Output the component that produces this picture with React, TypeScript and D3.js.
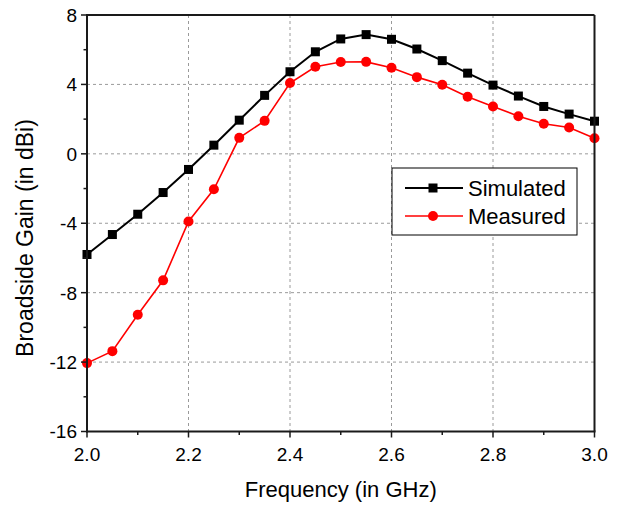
import React from 'react';
import * as d3 from 'd3';

// frequency points (GHz)
const freqs = [2.0, 2.05, 2.1, 2.15, 2.2, 2.25, 2.3, 2.35, 2.4, 2.45, 2.5, 2.55, 2.6, 2.65, 2.7, 2.75, 2.8, 2.85, 2.9, 2.95, 3.0];
const simulated = [-5.8, -4.65, -3.48, -2.23, -0.9, 0.5, 1.94, 3.37, 4.73, 5.88, 6.62, 6.87, 6.6, 6.04, 5.37, 4.65, 3.96, 3.33, 2.73, 2.29, 1.88];
const measured = [-12.06, -11.37, -9.27, -7.29, -3.9, -2.04, 0.92, 1.9, 4.08, 5.02, 5.29, 5.3, 4.96, 4.42, 3.98, 3.29, 2.73, 2.17, 1.73, 1.52, 0.9];

const xTicks = [2.0, 2.2, 2.4, 2.6, 2.8, 3.0];
const xMinor = [2.1, 2.3, 2.5, 2.7, 2.9];
const yTicks = [8, 4, 0, -4, -8, -12, -16];
const yMinor = [6, 2, -2, -6, -10, -14];

const FONT = '"Liberation Sans", Arial, sans-serif';

const App = () => {
  const left = 87, right = 594.5, top = 15, bottom = 431.5;
  const x = d3.scaleLinear().domain([2.0, 3.0]).range([left, right]);
  const y = d3.scaleLinear().domain([-16, 8]).range([bottom, top]);

  const simData = freqs.map((f, i) => [f, simulated[i]] as [number, number]);
  const meaData = freqs.map((f, i) => [f, measured[i]] as [number, number]);
  const line = d3.line<[number, number]>().x(d => x(d[0])).y(d => y(d[1]));

  const grid = '#9a9a9a';
  const axisColor = '#1a1a1a';

  return (
    <svg width={624} height={506} style={{ position: 'absolute', left: 0, top: 0, background: '#fff' }}>
      {/* grid */}
      {xTicks.slice(1, -1).map(t => (
        <line key={'gx' + t} x1={x(t)} x2={x(t)} y1={top} y2={bottom} stroke={grid} strokeWidth={1} strokeDasharray="3,3" />
      ))}
      {yTicks.slice(1, -1).map(t => (
        <line key={'gy' + t} x1={left} x2={right} y1={y(t)} y2={y(t)} stroke={grid} strokeWidth={1} strokeDasharray="3,3" />
      ))}

      {/* data */}
      <path d={line(simData) || ''} fill="none" stroke="#000" strokeWidth={2} />
      <path d={line(meaData) || ''} fill="none" stroke="#ff0000" strokeWidth={1.6} />
      {simData.map((d, i) => (
        <rect key={'s' + i} x={x(d[0]) - 4.5} y={y(d[1]) - 4.5} width={9} height={9} fill="#000" />
      ))}
      {meaData.map((d, i) => (
        <circle key={'m' + i} cx={x(d[0])} cy={y(d[1])} r={5} fill="#ff0000" />
      ))}

      {/* frame */}
      <line x1={left} x2={right} y1={top} y2={top} stroke={axisColor} strokeWidth={2} />
      <line x1={right} x2={right} y1={top} y2={bottom} stroke={axisColor} strokeWidth={2} />
      <line x1={left} x2={left} y1={top - 1} y2={bottom + 1} stroke={axisColor} strokeWidth={2} />
      <line x1={left - 1} x2={right + 1} y1={bottom} y2={bottom} stroke={axisColor} strokeWidth={2} />

      {/* x ticks */}
      {xTicks.map(t => (
        <g key={'xt' + t}>
          <line x1={x(t)} x2={x(t)} y1={bottom} y2={bottom + 6} stroke={axisColor} strokeWidth={1.5} />
          <text x={x(t)} y={461} textAnchor="middle" fontFamily={FONT} fontSize={19} fill="#000">{t.toFixed(1)}</text>
        </g>
      ))}
      {xMinor.map(t => (
        <line key={'xm' + t} x1={x(t)} x2={x(t)} y1={bottom} y2={bottom + 3.5} stroke={axisColor} strokeWidth={1.5} />
      ))}

      {/* y ticks */}
      {yTicks.map(t => (
        <g key={'yt' + t}>
          <line x1={left - 6} x2={left} y1={y(t)} y2={y(t)} stroke={axisColor} strokeWidth={1.5} />
          <text x={77} y={y(t)} dy="0.36em" textAnchor="end" fontFamily={FONT} fontSize={19} fill="#000">{t}</text>
        </g>
      ))}
      {yMinor.map(t => (
        <line key={'ym' + t} x1={left - 3.5} x2={left} y1={y(t)} y2={y(t)} stroke={axisColor} strokeWidth={1.5} />
      ))}

      {/* axis titles */}
      <text x={(left + right) / 2} y={497} textAnchor="middle" fontFamily={FONT} fontSize={22} fill="#000">Frequency (in GHz)</text>
      <text transform="translate(33,238) rotate(-90)" textAnchor="middle" fontFamily={FONT} fontSize={23} fill="#000">Broadside Gain (in dBi)</text>

      {/* legend */}
      <rect x={392} y={168} width={185} height={67} fill="#fff" stroke="#000" strokeWidth={1} />
      <line x1={405} x2={463} y1={188} y2={188} stroke="#000" strokeWidth={2} />
      <rect x={433 - 4.5} y={188 - 4.5} width={9} height={9} fill="#000" />
      <text x={468} y={196} fontFamily={FONT} fontSize={22} fill="#000">Simulated</text>
      <line x1={405} x2={463} y1={216} y2={216} stroke="#ff0000" strokeWidth={1.6} />
      <circle cx={433} cy={216} r={5} fill="#ff0000" />
      <text x={468} y={224} fontFamily={FONT} fontSize={22} fill="#000">Measured</text>
    </svg>
  );
};

export default App;
